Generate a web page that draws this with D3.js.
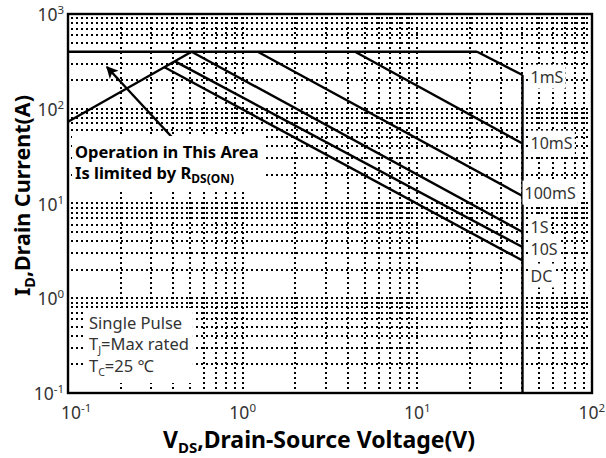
<!DOCTYPE html>
<html>
<head>
<meta charset="utf-8">
<script src="https://cdn.jsdelivr.net/npm/d3@7"></script>
<style>
  html, body { margin: 0; padding: 0; background: #fff; }
  svg { display: block; font-family: "Noto Sans", "Open Sans", sans-serif; }
</style>
</head>
<body>
<div id="chart"></div>
<script>
// Safe operating area
const vdsDomain = [0.1, 100];
const idDomain = [0.1, 1000];
const vdsTickExp = [-1, 0, 1, 2];
const idTickExp = [-1, 0, 1, 2, 3];

// package / RDS(on) limit
const packageLimitV = [0.1, 22];
const packageLimitI = [400, 400];
const rdsLimitV = [0.1, 0.51];
const rdsLimitI = [73, 400];

// pulse curves: start point on the limit, end at VDS max
const pulseNames = ["1mS", "10mS", "100mS", "1S", "10S", "DC"];
const pulseStartV = [22, 4.4, 1.22, 0.51, 0.41, 0.357];
const pulseStartI = [400, 400, 400, 400, 316, 274];
const pulseEndI = [227, 43, 12, 5.0, 3.47, 2.5];
const pulseLabelI = [216, 43.5, 12.9, 5.65, 3.31, 1.72];
const vdsMax = 40;

const arrowV = [0.394, 0.167];
const arrowI = [50, 276];

const W = 606, H = 458;
const margin = { top: 14, right: 14, bottom: 65, left: 68 };

const svg = d3.select("#chart").append("svg")
    .attr("width", W)
    .attr("height", H)
    .attr("viewBox", `0 0 ${W} ${H}`);

const x = d3.scaleLog().domain(vdsDomain).range([margin.left, W - margin.right]);
const y = d3.scaleLog().domain(idDomain).range([H - margin.bottom, margin.top]);

// dotted log grid, snapped to whole pixels so the dots stay crisp
const grid = svg.append("g")
    .attr("stroke", "#000")
    .attr("stroke-width", 2)
    .attr("stroke-dasharray", "2,3");

grid.selectAll("line.v")
    .data(x.ticks())
    .join("line")
    .attr("class", "v")
    .attr("x1", d => Math.round(x(d))).attr("x2", d => Math.round(x(d)))
    .attr("y1", y.range()[1] + 3).attr("y2", y.range()[0]);

grid.selectAll("line.h")
    .data(y.ticks())
    .join("line")
    .attr("class", "h")
    .attr("y1", d => Math.round(y(d))).attr("y2", d => Math.round(y(d)))
    .attr("x1", x.range()[0] + 3).attr("x2", x.range()[1]);

// text boxes that hide grid behind them
function boxedText(g, pad) {
    const b = g.node().getBBox();
    g.insert("rect", ":first-child")
        .attr("x", b.x - pad[3]).attr("y", b.y - pad[0])
        .attr("width", b.width + pad[1] + pad[3])
        .attr("height", b.height + pad[0] + pad[2])
        .attr("fill", "#fff");
}

const line = d3.line()
    .x(d => x(d[0]))
    .y(d => y(d[1]));

const curves = svg.append("g")
    .attr("fill", "none")
    .attr("stroke", "#000")
    .attr("stroke-width", 2.4)
    .attr("stroke-linejoin", "round");

curves.append("path")
    .attr("d", line(d3.zip(packageLimitV, packageLimitI)));
curves.append("path")
    .attr("d", line(d3.zip(rdsLimitV, rdsLimitI)));

pulseNames.forEach((name, i) => {
    curves.append("path")
        .attr("d", line([[pulseStartV[i], pulseStartI[i]], [vdsMax, pulseEndI[i]]]));
});

// VDS max wall
curves.append("path")
    .attr("d", line([[vdsMax, pulseEndI[0]], [vdsMax, idDomain[0]]]));

// curve labels
const pulseLabels = svg.append("g")
    .attr("font-size", 16)
    .attr("fill", "#333");

pulseNames.forEach((name, i) => {
    const g = pulseLabels.append("g");
    g.append("text")
        .attr("x", x(vdsMax) + (name === "100mS" ? 2 : 8))
        .attr("y", y(pulseLabelI[i]))
        .attr("dy", "0.35em")
        .text(name);
    boxedText(g, [1, 2, 1, 2]);
});

// arrow and limit annotation
svg.append("defs").append("marker")
    .attr("id", "head")
    .attr("viewBox", "0 0 10 10")
    .attr("refX", 9).attr("refY", 5)
    .attr("markerUnits", "userSpaceOnUse")
    .attr("markerWidth", 15).attr("markerHeight", 12)
    .attr("orient", "auto")
    .append("path")
    .attr("d", "M0,0 L10,5 L0,10 L2.5,5 Z")
    .attr("fill", "#000");

svg.append("path")
    .attr("d", line(d3.zip(arrowV, arrowI)))
    .attr("stroke", "#000")
    .attr("stroke-width", 2.4)
    .attr("marker-end", "url(#head)");

const note = svg.append("g")
    .attr("font-size", 16.5)
    .attr("font-weight", "bold")
    .attr("fill", "#000");
note.append("text")
    .attr("x", 75).attr("y", 158)
    .text("Operation in This Area");
const note2 = note.append("text").attr("x", 75).attr("y", 179);
note2.append("tspan").text("Is limited by R");
note2.append("tspan").attr("font-size", 12).attr("dy", 4).text("DS(ON)");
boxedText(note, [4, 6, 5, 3]);

const cond = svg.append("g")
    .attr("font-size", 16.5)
    .attr("fill", "#333");
cond.append("text").attr("x", 89).attr("y", 329).text("Single Pulse");
const tj = cond.append("text").attr("x", 89).attr("y", 350);
tj.append("tspan").text("T");
tj.append("tspan").attr("font-size", 10.5).attr("dy", 4).text("J");
tj.append("tspan").attr("dy", -4).text("=Max rated");
const tc = cond.append("text").attr("x", 89).attr("y", 372);
tc.append("tspan").text("T");
tc.append("tspan").attr("font-size", 10.5).attr("dy", 4).text("C");
tc.append("tspan").attr("dy", -4).text("=25 \u2103");
boxedText(cond, [3, 4, 4, 3]);

// frame
svg.append("rect")
    .attr("x", x.range()[0]).attr("y", y.range()[1])
    .attr("width", x.range()[1] - x.range()[0])
    .attr("height", y.range()[0] - y.range()[1])
    .attr("fill", "none")
    .attr("stroke", "#000")
    .attr("stroke-width", 2.4);

// power-of-ten tick labels
function powLabel(sel, e) {
    sel.append("tspan").text("10");
    sel.append("tspan").attr("font-size", 11.5).attr("dy", -7).text(e < 0 ? "-" + (-e) : e);
}

const xLabels = svg.append("g").attr("font-size", 17.5).attr("fill", "#333");
vdsTickExp.forEach(e => {
    const t = xLabels.append("text")
        .attr("x", x(Math.pow(10, e)))
        .attr("y", H - margin.bottom + 26)
        .attr("text-anchor", "middle");
    powLabel(t, e);
    const b = t.node().getBBox();
    if (b.x < 61) t.attr("x", +t.attr("x") + (61 - b.x));
    if (b.x + b.width > W - 1) t.attr("x", +t.attr("x") - (b.x + b.width - W + 1));
});

const yLabels = svg.append("g").attr("font-size", 17.5).attr("fill", "#333");
idTickExp.forEach(e => {
    const t = yLabels.append("text")
        .attr("x", margin.left - 4)
        .attr("y", y(Math.pow(10, e)) + 7)
        .attr("text-anchor", "end");
    powLabel(t, e);
});

// axis titles
const xTitle = svg.append("text")
    .attr("x", (x.range()[0] + x.range()[1]) / 2 - 11)
    .attr("y", 448)
    .attr("text-anchor", "middle")
    .attr("font-size", 23)
    .attr("font-weight", "bold");
xTitle.append("tspan").text("V");
xTitle.append("tspan").attr("font-size", 15).attr("dy", 5).text("DS");
xTitle.append("tspan").attr("dy", -5).text(",Drain-Source Voltage(V)");

const yTitle = svg.append("text")
    .attr("transform", `translate(30,${(y.range()[0] + y.range()[1]) / 2 - 8}) rotate(-90)`)
    .attr("text-anchor", "middle")
    .attr("font-size", 21.5)
    .attr("font-weight", "bold");
yTitle.append("tspan").text("I");
yTitle.append("tspan").attr("font-size", 14.5).attr("dy", 5).text("D");
yTitle.append("tspan").attr("dy", -5).text(",Drain Current(A)");
</script>
</body>
</html>
